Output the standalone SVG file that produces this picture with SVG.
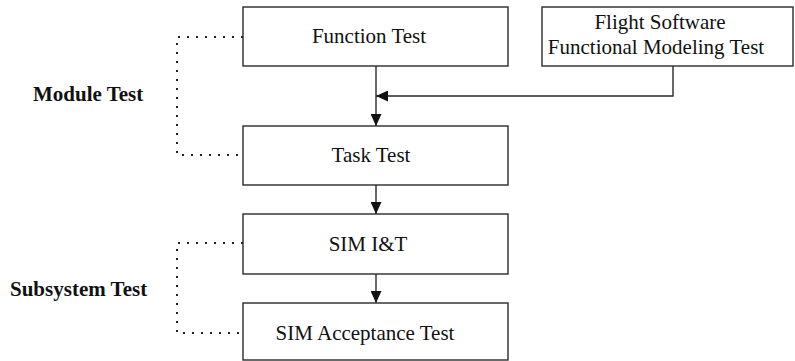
<svg xmlns="http://www.w3.org/2000/svg" width="795" height="361" viewBox="0 0 795 361">
  <style>
    .box { fill: #fff; stroke: #2a2a2a; stroke-width: 1.4; }
    .lbl { font-family: "Liberation Serif", "Times New Roman", serif; font-size: 21px; fill: #111; }
    .grp { font-family: "Liberation Serif", "Times New Roman", serif; font-size: 21px; font-weight: bold; fill: #111; }
    .wire { fill: none; stroke: #2a2a2a; stroke-width: 1.4; }
    .dots { fill: none; stroke: #222; stroke-width: 2; stroke-dasharray: 2 7; }
  </style>
  <defs>
    <marker id="head" viewBox="0 0 12 11" refX="12" refY="5.5" markerWidth="12" markerHeight="11" markerUnits="userSpaceOnUse" orient="auto">
      <path d="M0,0 L12,5.5 L0,11 Z" fill="#111"/>
    </marker>
  </defs>
  <rect width="795" height="361" fill="#fff"/>

  <!-- connectors -->
  <g id="connectors">
    <line class="wire" x1="376" y1="66" x2="376" y2="126" marker-end="url(#head)"/>
    <polyline class="wire" points="673,66 673,96 376,96" marker-end="url(#head)"/>
    <line class="wire" x1="376" y1="185" x2="376" y2="214" marker-end="url(#head)"/>
    <line class="wire" x1="376" y1="274" x2="376" y2="303" marker-end="url(#head)"/>
    <!-- grouping brackets -->
    <polyline class="dots" points="243,37 177,37 177,155 243,155"/>
    <polyline class="dots" points="243,243 177,243 177,333 243,333"/>
  </g>

  <g id="function-test">
    <rect class="box" x="243" y="7" width="265" height="59"/>
    <text class="lbl" x="369" y="43" text-anchor="middle">Function Test</text>
  </g>

  <g id="flight-software">
    <rect class="box" x="542" y="7" width="251" height="59"/>
    <text class="lbl" x="660" y="29" text-anchor="middle">Flight Software</text>
    <text class="lbl" x="656" y="54" text-anchor="middle">Functional Modeling Test</text>
  </g>

  <g id="task-test">
    <rect class="box" x="243" y="126" width="265" height="59"/>
    <text class="lbl" x="371" y="162" text-anchor="middle">Task Test</text>
  </g>

  <g id="sim-it">
    <rect class="box" x="243" y="214" width="265" height="60"/>
    <text class="lbl" x="368" y="251" text-anchor="middle">SIM I&amp;T</text>
  </g>

  <g id="sim-acceptance">
    <rect class="box" x="243" y="303" width="265" height="57"/>
    <text class="lbl" x="365" y="340" text-anchor="middle">SIM Acceptance Test</text>
  </g>

  <g id="module-test">
    <text class="grp" x="33" y="101">Module Test</text>
  </g>

  <g id="subsystem-test">
    <text class="grp" x="10" y="296">Subsystem Test</text>
  </g>
</svg>
